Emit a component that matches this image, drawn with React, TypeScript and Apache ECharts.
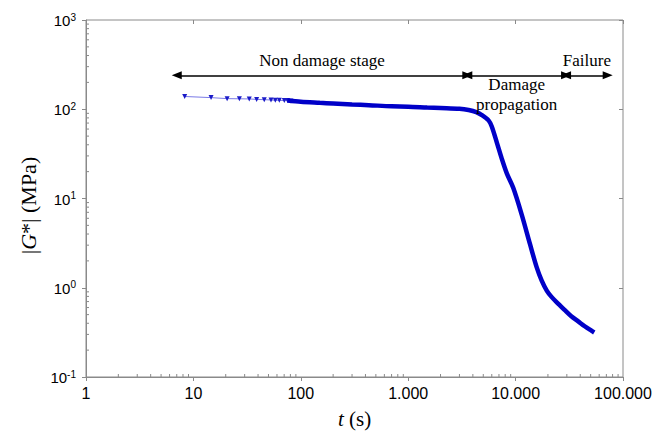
import React, { useEffect, useRef } from "react";
import * as echarts from "echarts";

// Early sampled points (visible triangle markers)
const markerTimes = [8.3, 14.6, 20.6, 26.8, 33.1, 38.8, 45.7, 52.8, 57.9, 63.1, 70.2, 75.3, 80.9];
const markerModulus = [139, 135, 131.5, 131, 130.5, 129, 128, 127, 126, 126, 125, 125, 124];

// Dense part of the test (markers merge into a thick curve)
const curveTimes = [75, 100, 150, 200, 300, 430, 700, 1000, 1500, 2000, 3000, 3650, 4300, 4850, 5600, 6000, 6700, 7430, 8300, 9540, 11400, 13600, 15700, 17500, 19500, 21600, 25000, 28800, 33000, 38300, 44000, 50800, 54000];
const curveModulus = [125, 121, 118, 116, 113, 111, 108, 107, 104.5, 103, 101, 98, 93, 86, 75, 64, 42, 28, 19, 13, 6.6, 3.1, 1.7, 1.2, 0.93, 0.79, 0.66, 0.56, 0.48, 0.42, 0.37, 0.33, 0.315];

// Stage boundaries (s) and label texts
const stageBounds = [7, 3550, 29500, 72000];
const stageNames = ["Non damage stage", "Damage\npropagation", "Failure"];
const stageLabelBelow = [false, true, false];
const arrowLevel = 240;

const xTickLabels = ["1", "10", "100", "1.000", "10.000", "100.000"];
const xDecades = [1, 10, 100, 1000, 10000];
const yDecades = [0.1, 1, 10, 100];
const minorMultiples = [2, 3, 4, 5, 6, 7, 8, 9];

export default function App() {
  const ref = useRef<HTMLDivElement>(null);
  useEffect(() => {
    document.body.style.margin = "0";
    const chart = echarts.init(ref.current!, null, { renderer: "svg" });
    const gray = "#8a8a8a";
    const sans = "Arial, 'Liberation Sans', sans-serif";
    const serif = "'Liberation Serif', 'Times New Roman', serif";
    const grid = { left: 86, right: 42, top: 20, bottom: 53, show: true, borderColor: gray, borderWidth: 1, backgroundColor: "transparent" };

    const markerData = markerTimes.map((t, i) => [t, markerModulus[i]]);
    const curveData = curveTimes.map((t, i) => [t, curveModulus[i]]);

    // minor tick positions (axis structure, 2..9 within each decade)
    const minorTicks: any[] = [];
    xDecades.forEach((d) => minorMultiples.forEach((m) => minorTicks.push([d * m, 0])));
    yDecades.forEach((d) => minorMultiples.forEach((m) => minorTicks.push([d * m, 1])));

    const stageLines = stageNames.map((_, i) => [
      { coord: [stageBounds[i], arrowLevel] },
      { coord: [stageBounds[i + 1], arrowLevel] },
    ]);

    const xBase = { type: "log", logBase: 10, min: 1, max: 100000, gridIndex: 0 };
    const yBase = { type: "log", logBase: 10, min: 0.1, max: 1000, gridIndex: 0 };

    chart.setOption({
      animation: false,
      grid,
      xAxis: [
        {
          ...xBase,
          axisLine: { lineStyle: { color: gray } },
          axisTick: { show: true, inside: false, length: 4, lineStyle: { color: gray } },
          splitLine: { show: false },
          axisLabel: {
            margin: 8,
            fontFamily: sans,
            fontSize: 16,
            color: "#000",
            formatter: (v: number) => xTickLabels[Math.round(Math.log10(v))] ?? "",
          },
          name: "{i|t} (s)",
          nameLocation: "middle",
          nameGap: 31,
          nameTextStyle: {
            fontFamily: serif,
            fontSize: 21,
            color: "#000",
            rich: { i: { fontFamily: serif, fontSize: 21, fontStyle: "italic", color: "#000" } },
          },
        },
        {
          ...xBase,
          axisLine: { show: false },
          axisTick: { show: true, inside: true, length: 4, lineStyle: { color: gray } },
          axisLabel: { show: false },
          splitLine: { show: false },
        },
      ],
      yAxis: [
        {
          ...yBase,
          axisLine: { show: true, lineStyle: { color: gray } },
          axisTick: { show: true, inside: false, length: 4, lineStyle: { color: gray } },
          splitLine: { show: false },
          axisLabel: {
            margin: 10,
            color: "#000",
            formatter: (v: number) => `{b|10}{s|${Math.round(Math.log10(v))}}`,
            rich: {
              b: { fontFamily: sans, fontSize: 15, lineHeight: 16, verticalAlign: "bottom", color: "#000" },
              s: { fontFamily: sans, fontSize: 10, lineHeight: 10, padding: [0, 0, 13, 0], verticalAlign: "top", color: "#000" },
            },
          },
          name: "|{i|G}*| (MPa)",
          nameLocation: "middle",
          nameGap: 46,
          nameRotate: 90,
          nameTextStyle: {
            fontFamily: serif,
            fontSize: 22,
            color: "#000",
            padding: [0, 14, 0, 0],
            rich: { i: { fontFamily: serif, fontSize: 22, fontStyle: "italic", color: "#000" } },
          },
        },
        {
          ...yBase,
          axisLine: { show: false },
          axisTick: { show: true, inside: true, length: 4, lineStyle: { color: gray } },
          axisLabel: { show: false },
          splitLine: { show: false },
        },
      ],
      series: [
        {
          type: "custom",
          xAxisIndex: 0,
          yAxisIndex: 0,
          data: minorTicks,
          silent: true,
          clip: false,
          z: 1,
          renderItem: (params: any, api: any) => {
            const v = api.value(0);
            const isY = api.value(1) === 1;
            const p = isY ? api.coord([1, v]) : api.coord([v, 0.1]);
            return {
              type: "line",
              shape: isY
                ? { x1: p[0], y1: p[1], x2: p[0] + 3, y2: p[1] }
                : { x1: p[0], y1: p[1], x2: p[0], y2: p[1] - 3 },
              style: { stroke: gray, lineWidth: 1 },
            };
          },
        },
        {
          type: "line",
          xAxisIndex: 0,
          yAxisIndex: 0,
          data: markerData,
          symbol: "triangle",
          symbolRotate: 180,
          symbolSize: [5, 5],
          showSymbol: true,
          lineStyle: { color: "#7a7ae6", width: 1 },
          itemStyle: { color: "#1a1ac8" },
          z: 3,
        },
        {
          type: "line",
          xAxisIndex: 0,
          yAxisIndex: 0,
          data: curveData,
          showSymbol: false,
          smooth: 0.3,
          lineStyle: { color: "#0000c8", width: 4.5 },
          z: 4,
          markLine: {
            silent: true,
            symbol: ["triangle", "triangle"],
            symbolSize: [8, 10],
            lineStyle: { color: "#000", width: 1.6, type: "solid" },
            itemStyle: { color: "#000" },
            label: { show: false },
            emphasis: { disabled: true },
            data: stageLines,
          },
        },
      ],
    });

    // stage labels placed through the chart's own scales
    const texts = stageNames.map((name, i) => {
      const a = chart.convertToPixel({ gridIndex: 0 }, [stageBounds[i], arrowLevel]) as number[];
      const b = chart.convertToPixel({ gridIndex: 0 }, [stageBounds[i + 1], arrowLevel]) as number[];
      const cx = (a[0] + b[0]) / 2;
      const below = stageLabelBelow[i];
      return {
        type: "text",
        x: cx,
        y: below ? a[1] - 1 : a[1] - 5,
        style: {
          text: name,
          fontFamily: serif,
          fontSize: 17,
          lineHeight: 20,
          fill: "#000",
          align: "center",
          verticalAlign: below ? "top" : "bottom",
        },
        z: 10,
      };
    });
    chart.setOption({ graphic: texts });

    return () => chart.dispose();
  }, []);
  return <div ref={ref} style={{ width: 665, height: 434 }} />;
}
